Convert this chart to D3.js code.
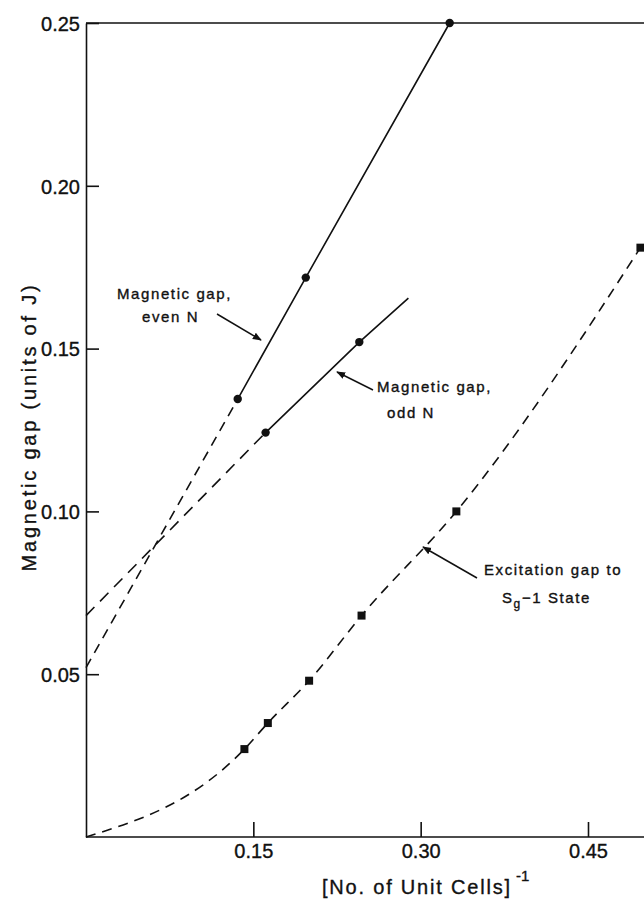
<!DOCTYPE html>
<html>
<head>
<meta charset="utf-8">
<script src="https://cdn.jsdelivr.net/npm/d3@7"></script>
<style>
  body { margin: 0; background: #fff; }
  svg { display: block; }
  text { font-family: "Liberation Sans", Arial, sans-serif; fill: #111; stroke: #111; stroke-width: 0.35px; }
</style>
</head>
<body>
<script>
// values, x = 1 / (no. of unit cells)
var evenX = [0.136, 0.197, 0.326];
var evenY = [0.1345, 0.1718, 0.250];
var evenIntercept = 0.052;          // dashed extrapolation to x = 0

var oddX = [0.161, 0.245];
var oddY = [0.1242, 0.152];
var oddIntercept = 0.068;
var oddEndX = 0.289, oddEndY = 0.1655; // solid line runs a bit past last point

var excX = [0, 0.142, 0.163, 0.200, 0.247, 0.332, 0.497];
var excY = [0, 0.027, 0.035, 0.048, 0.068, 0.100, 0.181];

var xTicks = [0.15, 0.30, 0.45];
var yTicks = [0.05, 0.10, 0.15, 0.20, 0.25];

var width = 644, height = 899;

var svg = d3.select("body")
    .append("svg")
    .attr("width", width)
    .attr("height", height);

var defs = svg.append("defs");
defs.append("marker")
    .attr("id", "arrow")
    .attr("viewBox", "0 0 10 10")
    .attr("refX", 9)
    .attr("refY", 5)
    .attr("markerWidth", 9)
    .attr("markerHeight", 9)
    .attr("markerUnits", "userSpaceOnUse")
    .attr("orient", "auto")
    .append("path")
    .attr("d", "M0,1 L10,5 L0,9 z")
    .attr("fill", "#111");

var x = d3.scaleLinear()
    .domain([0, 0.45])
    .range([86, 588]);

var y = d3.scaleLinear()
    .domain([0, 0.25])
    .range([837, 23]);

var xRight = x(0.52);

var g = svg.append("g");

// frame top line
g.append("line")
    .attr("x1", x(0)).attr("x2", xRight)
    .attr("y1", y(0.25)).attr("y2", y(0.25))
    .attr("stroke", "#111").attr("stroke-width", 1.6);

var bottomAxis = d3.axisBottom(x)
    .tickValues(xTicks)
    .tickFormat(d3.format(".2f"))
    .tickSizeInner(-15)
    .tickSizeOuter(0)
    .tickPadding(7);

var xg = g.append("g")
    .attr("transform", "translate(0," + y(0) + ")")
    .call(bottomAxis);
xg.select(".domain").attr("d", "M" + x(0) + ",0H" + xRight);

var leftAxis = d3.axisLeft(y)
    .tickValues(yTicks)
    .tickFormat(d3.format(".2f"))
    .tickSizeInner(-13)
    .tickSizeOuter(0)
    .tickPadding(6);

var yg = g.append("g")
    .attr("transform", "translate(" + x(0) + ",0)")
    .call(leftAxis);

[xg, yg].forEach(function(a) {
    a.selectAll("path, line").attr("stroke", "#111").attr("stroke-width", 1.6);
    a.selectAll("text")
        .attr("font-size", "20px")
        .attr("font-family", "'Liberation Sans', Arial, sans-serif")
        .style("fill", "#111");
});
yg.selectAll(".tick text").attr("dy", "0.36em");

var line = d3.line()
    .x(function(d) { return x(d[0]); })
    .y(function(d) { return y(d[1]); });

// even N
var evenPts = evenX.map(function(v, i) { return [v, evenY[i]]; });
g.append("path")
    .attr("d", line([[0, evenIntercept], evenPts[0]]))
    .attr("fill", "none").attr("stroke", "#111").attr("stroke-width", 1.6)
    .attr("stroke-dasharray", "10,7");
g.append("path")
    .attr("d", line(evenPts))
    .attr("fill", "none").attr("stroke", "#111").attr("stroke-width", 1.6);

// odd N
var oddPts = oddX.map(function(v, i) { return [v, oddY[i]]; });
g.append("path")
    .attr("d", line([[0, oddIntercept], oddPts[0]]))
    .attr("fill", "none").attr("stroke", "#111").attr("stroke-width", 1.6)
    .attr("stroke-dasharray", "12,8");
g.append("path")
    .attr("d", line(oddPts.concat([[oddEndX, oddEndY]])))
    .attr("fill", "none").attr("stroke", "#111").attr("stroke-width", 1.6);

g.selectAll("circle.pt")
    .data(evenPts.concat(oddPts))
    .enter()
    .append("circle")
    .attr("class", "pt")
    .attr("cx", function(d) { return x(d[0]); })
    .attr("cy", function(d) { return y(d[1]); })
    .attr("r", 4.2)
    .attr("fill", "#111");

// excitation gap curve
var excPts = excX.map(function(v, i) { return [v, excY[i]]; });
g.append("path")
    .attr("d", line.curve(d3.curveMonotoneX)(excPts))
    .attr("fill", "none").attr("stroke", "#111").attr("stroke-width", 1.6)
    .attr("stroke-dasharray", "10,7");

g.selectAll("rect.pt")
    .data(excPts.slice(1))
    .enter()
    .append("rect")
    .attr("class", "pt")
    .attr("x", function(d) { return x(d[0]) - 4; })
    .attr("y", function(d) { return y(d[1]) - 4; })
    .attr("width", 8)
    .attr("height", 8)
    .attr("fill", "#111");

// annotations
function arrow(x1, y1, x2, y2) {
    g.append("line")
        .attr("x1", x1).attr("y1", y1)
        .attr("x2", x2).attr("y2", y2)
        .attr("stroke", "#111").attr("stroke-width", 1.5)
        .attr("marker-end", "url(#arrow)");
}
function label(tx, ty, s) {
    return g.append("text")
        .attr("x", tx).attr("y", ty)
        .attr("font-size", "15px")
        .attr("letter-spacing", "1.6px")
        .text(s);
}

label(117, 299, "Magnetic gap,");
label(142, 322, "even N");
arrow(217, 314, 261, 340);

label(377, 392, "Magnetic gap,");
label(387, 418, "odd N");
arrow(373, 390, 337, 372);

label(484, 575, "Excitation gap to");
var sg = g.append("text")
    .attr("x", 502).attr("y", 603)
    .attr("font-size", "15px")
    .attr("letter-spacing", "1.6px");
sg.append("tspan").text("S");
sg.append("tspan").attr("dy", 5).attr("font-size", "12px").text("g");
sg.append("tspan").attr("dy", -5).text("\u22121 State");
arrow(477, 578, 423, 547);

// axis titles
g.append("text")
    .attr("x", 322)
    .attr("y", 894)
    .attr("font-size", "20px")
    .attr("letter-spacing", "1.8px")
    .text("[No. of Unit Cells]");
g.append("text")
    .attr("x", 516)
    .attr("y", 881)
    .attr("font-size", "15px")
    .text("-1");

g.append("text")
    .attr("transform", "rotate(-90)")
    .attr("x", -427)
    .attr("y", 36)
    .attr("font-size", "20px")
    .attr("letter-spacing", "2.8px")
    .attr("text-anchor", "middle")
    .text("Magnetic gap (units of J)");
</script>
</body>
</html>
